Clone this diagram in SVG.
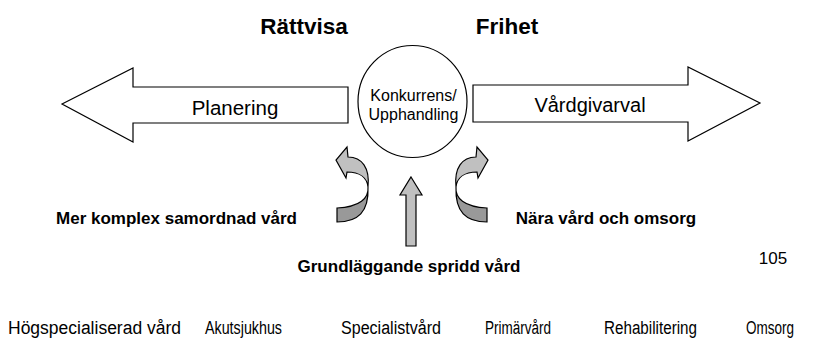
<svg xmlns="http://www.w3.org/2000/svg" width="819" height="342" viewBox="0 0 819 342">
<style>
.o{stroke:#000;stroke-width:1.2;stroke-linejoin:miter}
.w{fill:#fff}
.l{fill:#c0c0c0}
.d{fill:#999}
text{font-family:"Liberation Sans",Arial,sans-serif;fill:#000}
.b{font-weight:bold}
.n{font-family:"Liberation Sans Narrow","Arial Narrow","Liberation Sans",sans-serif;font-size:18px}
</style>
<rect width="819" height="342" fill="#fff"/>
<g id="big-arrows">
<g id="planering">
<polygon class="o w" points="62,104 133,68 133,87 348,87 348,123 133,123 133,142"/>
<text x="235" y="115" font-size="20.5" text-anchor="middle">Planering</text>
</g>
<g id="vardgivarval">
<polygon class="o w" points="473,85 688,85 688,67 760,103 688,141 688,122 473,122"/>
<text x="590" y="112" font-size="20" text-anchor="middle">Vårdgivarval</text>
</g>
</g>
<g id="konkurrens">
<ellipse class="o w" cx="412.5" cy="101.5" rx="54.5" ry="56"/>
<text x="413.5" y="101" font-size="16" text-anchor="middle">Konkurrens/</text>
<text x="413.5" y="120" font-size="16" text-anchor="middle">Upphandling</text>
</g>
<g id="curved-left">
<path class="o d" d="M368,187 C369,198 360,207 337,208 L337,222 C358,222 369,212 368,187 Z"/>
<path class="o l" d="M368,187 C370,168 362,157 348,157 L347,147 L336,160 L346,178 L347,172 C360,172 367,178 368,187 Z"/>
</g>
<g id="curved-right">
<path class="o d" d="M456,187 C455,198 464,207 487,208 L487,222 C466,222 455,212 456,187 Z"/>
<path class="o l" d="M456,187 C454,168 462,157 476,157 L477,147 L488,160 L478,178 L477,172 C464,172 457,178 456,187 Z"/>
</g>
<g id="up-arrow">
<polygon class="o l" points="411,177 422,195 416,195 416,246 406,246 406,195 400,195"/>
</g>
<g id="labels">
<text class="b" x="304" y="34" font-size="22.5" text-anchor="middle">Rättvisa</text>
<text class="b" x="507" y="34" font-size="22.5" text-anchor="middle">Frihet</text>
<text class="b" x="176.5" y="224" font-size="17" text-anchor="middle">Mer komplex samordnad vård</text>
<text class="b" x="606" y="224" font-size="17" text-anchor="middle">Nära vård och omsorg</text>
<text class="b" x="409" y="272" font-size="17" text-anchor="middle">Grundläggande spridd vård</text>
<text x="773" y="264" font-size="17" text-anchor="middle">105</text>
</g>
<g id="bottom-row">
<text class="n" x="8" y="334" textLength="173" lengthAdjust="spacingAndGlyphs">Högspecialiserad vård</text>
<text class="n" x="205" y="334" textLength="77" lengthAdjust="spacingAndGlyphs">Akutsjukhus</text>
<text class="n" x="341" y="334" textLength="100" lengthAdjust="spacingAndGlyphs">Specialistvård</text>
<text class="n" x="485" y="334" textLength="66" lengthAdjust="spacingAndGlyphs">Primärvård</text>
<text class="n" x="604" y="334" textLength="93" lengthAdjust="spacingAndGlyphs">Rehabilitering</text>
<text class="n" x="746" y="334" textLength="48" lengthAdjust="spacingAndGlyphs">Omsorg</text>
</g>
</svg>
